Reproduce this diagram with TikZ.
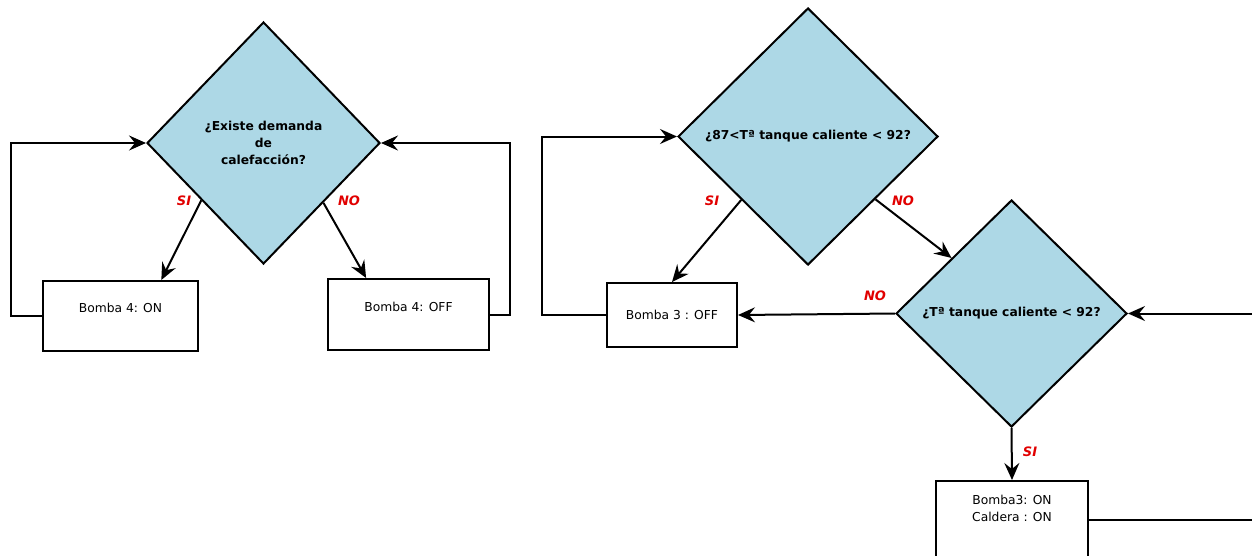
\documentclass[tikz,border=0pt]{standalone}
\usepackage{fontspec}
\setmainfont{DejaVu Sans}
\usetikzlibrary{shapes.geometric,arrows.meta,calc}
\definecolor{dfill}{RGB}{173,216,230}
\definecolor{lblred}{RGB}{225,0,0}
\begin{document}
\begin{tikzpicture}[x=1pt,y=-1pt,
  line width=2pt,
  dec/.style={diamond,draw=black,fill=dfill,inner sep=0pt,align=center,
    font=\fontsize{12.3}{17}\selectfont\bfseries},
  boxn/.style={rectangle,draw=black,fill=white,inner sep=0pt,
    font=\fontsize{12.3}{17}\selectfont},
  lbl/.style={text=lblred,font=\fontsize{13}{14}\selectfont\bfseries\itshape,inner sep=0pt},
  arr/.style={-{Stealth[length=17pt,width=15pt,inset=6pt]}}]
\useasboundingbox (0,0) rectangle (1252,555);
\clip (0,0) rectangle (1252,555);

% decisions
\node[dec,minimum width=233,minimum height=242] (d1) at (263.5,143) {¿Existe demanda\\de\\calefacción?};
\node[dec,minimum width=260,minimum height=257] (d2) at (808,136.5) {¿87<Tª tanque caliente < 92?};
\node[dec,minimum width=231,minimum height=227] (d3) at (1011.5,313.5) {¿Tª tanque caliente < 92?};

% boxes
\node[boxn,minimum width=155,minimum height=70,text height=8pt,text depth=16pt] (b1) at (120.5,316) {Bomba 4: ON};
\node[boxn,minimum width=161,minimum height=71,text height=8pt,text depth=15pt] (b2) at (408.5,314.5) {Bomba 4: OFF};
\node[boxn,minimum width=130,minimum height=64] (b3) at (672,315) {Bomba 3 : OFF};
\node[boxn,minimum width=152,minimum height=78,
  label={[font=\fontsize{12.3}{17}\selectfont,align=center,anchor=north,yshift=-11]north:{Bomba3: ON\\Caldera : ON}}] (b4) at (1012,520) {};

% loop turning points
\coordinate (l1) at (11,0);
\coordinate (r1) at (510,0);
\coordinate (l2) at (542,0);
\coordinate (r2) at (1275,0);

% connectors
\draw[arr] (b1.west) -- (b1.west -| l1) |- (d1.west);
\draw[arr] (b2.east) -- (b2.east -| r1) |- (d1.east);
\draw[arr] ($(d1.west)!0.47!(d1.south)$) -- ($(b1.north west)!0.76!(b1.north east)$);
\draw[arr] ($(d1.east)!0.49!(d1.south)$) -- ($(b2.north west)!0.24!(b2.north east)$);

\draw[arr] (b3.west) -- (b3.west -| l2) |- (d2.west);
\draw[arr] ($(d2.west)!0.49!(d2.south)$) -- (b3.north);
\draw[arr] ($(d2.east)!0.485!(d2.south)$) -- ($(d3.west)!0.485!(d3.north)$);
\draw[arr] (d3.west) -- (b3.east);
\draw[arr] (d3.south) -- (b4.north);
\draw[arr] (b4.east) -- (b4.east -| r2) |- (d3.east);

% labels
\node[lbl] (si1) at (184,201) {SI};
\node[lbl] (no1) at (349,201) {NO};
\node[lbl] (si2) at (712,201) {SI};
\node[lbl] (no2) at (903,201) {NO};
\node[lbl] (no3) at (875,296) {NO};
\node[lbl] (si3) at (1030,452) {SI};
\end{tikzpicture}
\end{document}
